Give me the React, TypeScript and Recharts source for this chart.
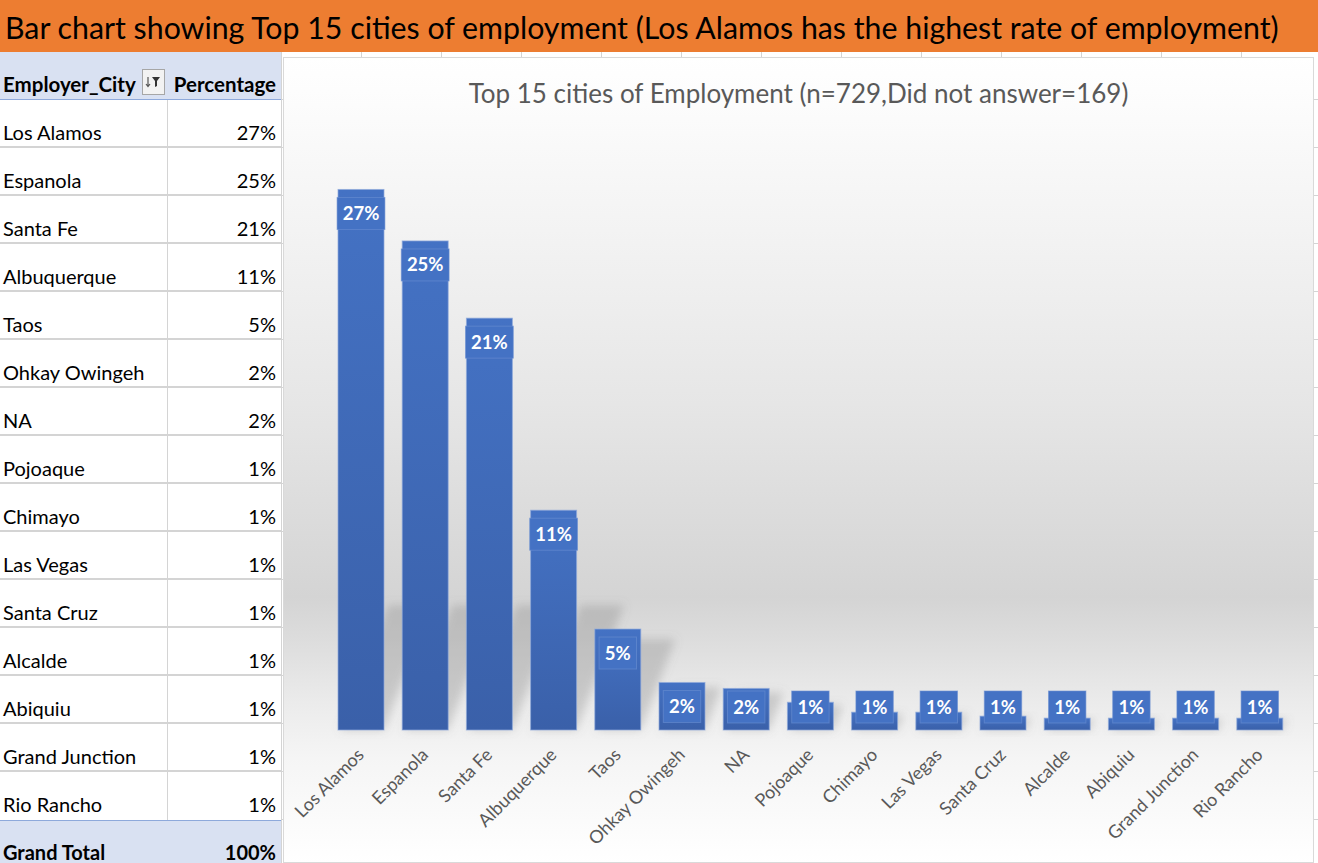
import React from 'react';
import { Bar, BarChart, LabelList, XAxis, YAxis } from 'recharts';

// chart data
const CITIES = [
  'Los Alamos',
  'Espanola',
  'Santa Fe',
  'Albuquerque',
  'Taos',
  'Ohkay Owingeh',
  'NA',
  'Pojoaque',
  'Chimayo',
  'Las Vegas',
  'Santa Cruz',
  'Alcalde',
  'Abiquiu',
  'Grand Junction',
  'Rio Rancho',
];
const SHARE = [27.3, 24.7, 20.8, 11.1, 5.1, 2.4, 2.1, 1.4, 0.9, 0.9, 0.7, 0.6, 0.6, 0.6, 0.6];
const Y_DOMAIN = [0, 30];

const PAGE_TITLE =
  'Bar chart showing Top 15 cities of employment (Los Alamos has the highest rate of employment)';
const CHART_TITLE = 'Top 15 cities of Employment (n=729,Did not answer=169)';
const TABLE_HEAD = ['Employer_City', 'Percentage'];
const TOTAL_LABEL = 'Grand Total';

const data = CITIES.map((city, i) => ({ city, share: SHARE[i] }));
const pct = (v: number) => `${Math.round(v)}%`;
const total = SHARE.reduce((a, b) => a + b, 0);

const FONT = 'Lato, "Open Sans", sans-serif';
const ROW_H = 48;
const TABLE_TOP = 52;
const TABLE_W = 282;
const COL_SPLIT = 167;
const GRID = '#d4d4d4';

const CHART_LEFT = 283;
const CHART_TOP = 57;
const CHART_W = 1031;
const CHART_H = 806;

function CellText({
  rowTop,
  left,
  width,
  align,
  bold,
  size = 20,
  children,
}: {
  rowTop: number;
  left: number;
  width: number;
  align: 'left' | 'right';
  bold?: boolean;
  size?: number;
  children: React.ReactNode;
}) {
  return (
    <div
      style={{
        position: 'absolute',
        top: rowTop + 40 - 0.987 * size,
        left,
        width,
        textAlign: align,
        fontWeight: bold ? 700 : 400,
        fontSize: size,
        lineHeight: `${size * 1.2}px`,
        whiteSpace: 'nowrap',
        color: '#000',
      }}
    >
      {children}
    </div>
  );
}

function FilterButton() {
  return (
    <svg width={23} height={26} style={{ position: 'absolute', left: 142, top: 17 }}>
      <rect x={0.5} y={0.5} width={22} height={25} fill="#f2f2f2" stroke="#a6a6a6" />
      <path d="M6 8 L6 17 M4 15 L6 17.5 L8 15" stroke="#555" strokeWidth={1.2} fill="none" />
      <path d="M10 8 L18 8 L15 12 L15 17 L13 18 L13 12 Z" fill="#333" />
    </svg>
  );
}

function PivotTable() {
  const lastTop = ROW_H * (CITIES.length + 1);
  const valueW = TABLE_W - COL_SPLIT - 6;
  return (
    <div
      style={{
        position: 'absolute',
        left: 0,
        top: TABLE_TOP,
        width: TABLE_W,
        height: ROW_H * (CITIES.length + 2),
        background: '#fff',
      }}
    >
      <div
        style={{
          position: 'absolute',
          left: 0,
          top: 0,
          width: TABLE_W,
          height: ROW_H,
          background: '#D9E1F2',
          borderBottom: '1px solid #8EA9DB',
          boxSizing: 'border-box',
        }}
      />
      {CITIES.map((c, i) => (
        <div
          key={c}
          style={{
            position: 'absolute',
            left: 0,
            top: ROW_H * (i + 1),
            width: TABLE_W,
            height: ROW_H,
            borderBottom: i === CITIES.length - 1 ? 'none' : `2px solid ${GRID}`,
            boxSizing: 'border-box',
          }}
        />
      ))}
      <div
        style={{
          position: 'absolute',
          left: COL_SPLIT,
          top: ROW_H,
          width: 1,
          height: ROW_H * CITIES.length,
          background: GRID,
        }}
      />
      <div
        style={{
          position: 'absolute',
          left: 0,
          top: lastTop,
          width: TABLE_W,
          height: ROW_H,
          background: '#D9E1F2',
          borderTop: '1px solid #8EA9DB',
          boxSizing: 'border-box',
        }}
      />
      <div
        style={{
          position: 'absolute',
          left: TABLE_W - 1,
          top: 0,
          width: 1,
          height: ROW_H * (CITIES.length + 2),
          background: GRID,
        }}
      />

      <CellText rowTop={0} left={3} width={140} align="left" bold size={20.5}>
        {TABLE_HEAD[0]}
      </CellText>
      <FilterButton />
      <CellText rowTop={0} left={COL_SPLIT} width={valueW} align="right" bold size={20.5}>
        {TABLE_HEAD[1]}
      </CellText>

      {CITIES.map((c, i) => (
        <React.Fragment key={c}>
          <CellText rowTop={ROW_H * (i + 1)} left={3} width={COL_SPLIT - 6} align="left">
            {c}
          </CellText>
          <CellText rowTop={ROW_H * (i + 1)} left={COL_SPLIT} width={valueW} align="right">
            {pct(SHARE[i])}
          </CellText>
        </React.Fragment>
      ))}

      <CellText rowTop={lastTop} left={3} width={COL_SPLIT - 6} align="left" bold>
        {TOTAL_LABEL}
      </CellText>
      <CellText rowTop={lastTop} left={COL_SPLIT} width={valueW} align="right" bold>
        {pct(total)}
      </CellText>
    </div>
  );
}

const BarShape = (props: any) => {
  const { x, y, width, height } = props;
  if (!height || height <= 0) return null;
  const base = y + height;
  const len = Math.min(height * 0.9, 125);
  const dx = len * 0.38;
  return (
    <g>
      <polygon
        points={`${x + 2},${base} ${x + width},${base} ${x + width + dx},${base - len} ${
          x + 2 + dx
        },${base - len}`}
        fill="#7a7a7a"
        fillOpacity={0.3}
        filter="url(#shadowBlur)"
      />
      <rect
        x={x}
        y={y}
        width={width}
        height={height}
        fill="url(#barFill)"
        stroke="#8eaadb"
        strokeOpacity={0.7}
        strokeWidth={1}
      />
    </g>
  );
};

const ValueLabel = (props: any) => {
  const { x, y, width, height, value } = props;
  const cx = x + width / 2;
  const cy = Math.min(y + 24, y + height - 23);
  const text = pct(value);
  const boxW = (text.length - 1) * 10.4 + 27;
  return (
    <g>
      <rect
        x={cx - boxW / 2}
        y={cy - 16}
        width={boxW}
        height={32}
        fill="#4472C4"
        stroke="#6a8fd2"
        strokeOpacity={0.6}
      />
      <text
        x={cx}
        y={cy + 6.5}
        textAnchor="middle"
        fill="#fff"
        fontFamily={FONT}
        fontWeight={700}
        fontSize={18.5}
      >
        {text}
      </text>
    </g>
  );
};

const CityTick = (props: any) => {
  const { x, y, payload } = props;
  return (
    <g transform={`translate(${x + 4},${y + 26})`}>
      <text textAnchor="end" transform="rotate(-45)" fill="#595959" fontFamily={FONT} fontSize={18}>
        {payload.value}
      </text>
    </g>
  );
};

function EmploymentChart() {
  return (
    <div
      style={{
        position: 'absolute',
        left: CHART_LEFT,
        top: CHART_TOP,
        width: CHART_W,
        height: CHART_H,
        background:
          'linear-gradient(to bottom, #ffffff 0%, #fcfcfc 6%, #f5f5f5 18%, #eeeeee 30%, #e6e6e6 43%, #dddddd 55%, #d4d4d4 67%, #dcdcdc 72%, #ebebeb 80%, #f5f5f5 87%, #ffffff 100%)',
        boxShadow: 'inset 0 0 0 1px #d9d9d9',
      }}
    >
      <div
        style={{
          position: 'absolute',
          left: 0,
          top: 47 - 0.987 * 26,
          width: CHART_W,
          textAlign: 'center',
          fontSize: 26,
          lineHeight: '31.2px',
          color: '#595959',
          whiteSpace: 'nowrap',
        }}
      >
        {CHART_TITLE}
      </div>
      <BarChart
        width={CHART_W}
        height={CHART_H}
        data={data}
        margin={{ top: 79, right: 22, left: 46, bottom: 0 }}
        style={{ position: 'absolute', left: 0, top: 0 }}
      >
        <defs>
          <linearGradient id="barFill" x1="0" y1="0" x2="0" y2="1">
            <stop offset="0%" stopColor="#4472C4" />
            <stop offset="100%" stopColor="#3A60A9" />
          </linearGradient>
          <filter id="shadowBlur" x="-50%" y="-50%" width="200%" height="200%">
            <feGaussianBlur stdDeviation="5" />
          </filter>
        </defs>
        <XAxis
          dataKey="city"
          interval={0}
          axisLine={false}
          tickLine={false}
          tickSize={0}
          tickMargin={0}
          height={133}
          tick={<CityTick />}
        />
        <YAxis hide domain={Y_DOMAIN} />
        <Bar dataKey="share" barSize={46} shape={<BarShape />} isAnimationActive={false}>
          <LabelList dataKey="share" content={<ValueLabel />} />
        </Bar>
      </BarChart>
    </div>
  );
}

export default function App() {
  return (
    <div
      style={{
        position: 'absolute',
        left: 0,
        top: 0,
        width: 1318,
        height: 863,
        overflow: 'hidden',
        fontFamily: FONT,
        backgroundColor: '#fff',
        backgroundImage: `repeating-linear-gradient(to right, transparent 0px, transparent 79px, ${GRID} 79px, ${GRID} 80px), repeating-linear-gradient(to bottom, transparent 0px, transparent 47px, ${GRID} 47px, ${GRID} 48px)`,
        backgroundPosition: '282px 52px',
      }}
    >
      <div
        style={{
          position: 'absolute',
          left: 0,
          top: 0,
          width: 1318,
          height: 52,
          background: '#ED7D31',
        }}
      >
        <div
          style={{
            position: 'absolute',
            left: 5,
            top: 39 - 0.987 * 30.3,
            fontSize: 30.3,
            lineHeight: '36.4px',
            color: '#000',
            whiteSpace: 'nowrap',
          }}
        >
          {PAGE_TITLE}
        </div>
      </div>
      <PivotTable />
      <EmploymentChart />
    </div>
  );
}
